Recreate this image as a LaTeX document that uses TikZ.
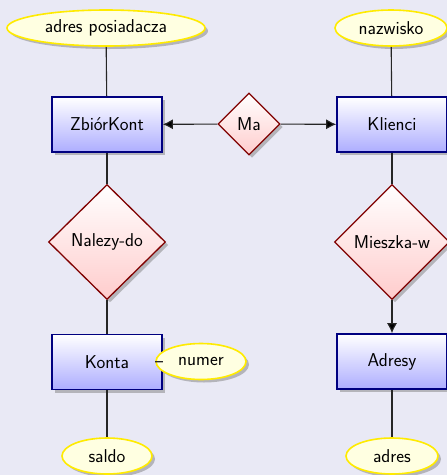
\documentclass[tikz,border=0pt]{standalone}
\usetikzlibrary{shapes.geometric,shadows,arrows.meta}
\definecolor{bgc}{RGB}{233,233,245}
\definecolor{entdraw}{RGB}{0,0,128}
\definecolor{reldraw}{RGB}{128,0,0}
\definecolor{attfill}{RGB}{255,255,225}
\definecolor{attdraw}{RGB}{255,235,0}
\begin{document}
\begin{tikzpicture}[x=1pt,y=-1pt,
  font=\sffamily\fontsize{18.6}{22}\selectfont,
  entity/.style={rectangle, draw=entdraw, line width=1.6pt, top color=white, bottom color=blue!32,
    minimum width=110pt, minimum height=55pt, inner sep=0pt,
    drop shadow={shadow xshift=3pt, shadow yshift=-3pt, opacity=.5, fill=black!50}},
  relation/.style={diamond, draw=reldraw, line width=1.3pt, top color=white, bottom color=red!20,
    inner sep=0pt, drop shadow={shadow xshift=3pt, shadow yshift=-3pt, opacity=.5, fill=black!50}},
  attribute/.style={ellipse, draw=attdraw, line width=1.6pt, fill=attfill, inner sep=0pt,
    minimum height=36pt,
    drop shadow={shadow xshift=3pt, shadow yshift=-3pt, opacity=.5, fill=black!50}},
  link/.style={line width=1.1pt, black!85},
  arr/.style={link, -{Latex[length=10pt,width=10pt,fill=black]}}
]
\fill[bgc] (0,0) rectangle (447,475);
\useasboundingbox (0,0) rectangle (447,475);

\node[attribute, minimum width=198pt] (adrpos) at (106,28) {adres posiadacza};
\node[attribute, minimum width=112pt] (nazw) at (391,28) {nazwisko};
\node[entity] (zbior) at (107,124.5) {ZbiórKont};
\node[relation, minimum width=62pt, minimum height=62pt] (ma) at (249,124) {Ma};
\node[entity] (klienci) at (392,124.5) {Klienci};
\node[relation, minimum width=117pt, minimum height=115pt] (nalezy) at (107,242) {Nalezy-do};
\node[relation, minimum width=115pt, minimum height=115pt] (mieszka) at (392,242) {Mieszka-w};
\node[entity] (konta) at (107,362) {Konta};
\node[attribute, minimum width=90pt] (numer) at (201,361.5) {numer};
\node[entity] (adresy) at (392,361.5) {Adresy};
\node[attribute, minimum width=90pt] (saldo) at (107,456) {saldo};
\node[attribute, minimum width=92pt] (adres) at (392,456) {adres};

\draw[link] (adrpos) -- (zbior);
\draw[link] (nazw) -- (klienci);
\draw[arr] (ma) -- (zbior);
\draw[arr] (ma) -- (klienci);
\draw[link] (zbior) -- (nalezy);
\draw[link] (nalezy) -- (konta);
\draw[link] (klienci) -- (mieszka);
\draw[arr] (mieszka) -- (adresy);
\draw[link] (konta) -- (numer);
\draw[link] (konta) -- (saldo);
\draw[link] (adresy) -- (adres);
\end{tikzpicture}
\end{document}
